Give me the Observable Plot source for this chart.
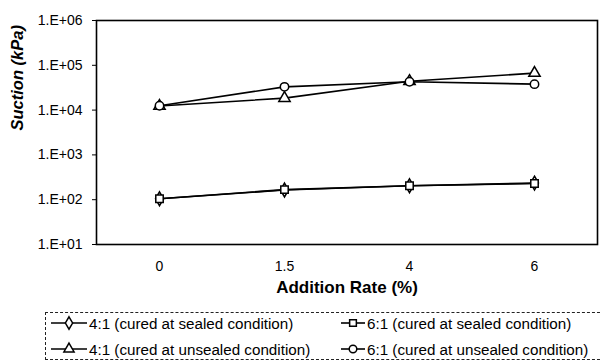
<!DOCTYPE html>
<html>
<head>
<meta charset="utf-8">
<script src="https://cdn.jsdelivr.net/npm/d3@7"></script>
<script src="https://cdn.jsdelivr.net/npm/@observablehq/plot@0.6"></script>
<style>
  html, body { margin: 0; padding: 0; background: #fff; }
  body { width: 601px; height: 362px; position: relative; overflow: hidden; font-family: "Liberation Sans", Arial, sans-serif; }
  #chart { position: absolute; left: 0; top: 0; }
  #legend { position: absolute; left: 45px; top: 312px; width: 560px; height: 48px; border: 1px dashed #222; box-sizing: border-box; font-size: 15.2px; color: #000; }
  .item { position: absolute; display: flex; align-items: center; white-space: nowrap; height: 20px; }
  .item svg { margin-right: 1px; }
</style>
</head>
<body>
<div id="chart"></div>
<div id="legend"></div>
<script>
const rates = ["0", "1.5", "4", "6"];
const seriesNames = [
  "4:1 (cured at sealed condition)",
  "6:1 (cured at sealed condition)",
  "4:1 (cured at unsealed condition)",
  "6:1 (cured at unsealed condition)"
];
const seriesSymbols = ["diamond", "square", "triangle", "circle"];
const sealed41 = [105, 165, 205, 235];
const sealed61 = [105, 168, 205, 230];
const unsealed41 = [12300, 18500, 44000, 67000];
const unsealed61 = [12500, 33000, 43000, 38000];
const yTicks = [1e1, 1e2, 1e3, 1e4, 1e5, 1e6];
const yTickLabels = ["1.E+01", "1.E+02", "1.E+03", "1.E+04", "1.E+05", "1.E+06"];

const allValues = [sealed41, sealed61, unsealed41, unsealed61];
const data = [];
allValues.forEach((vals, si) => {
  vals.forEach((v, i) => data.push({series: seriesNames[si], symbol: seriesSymbols[si], rate: rates[i], value: v}));
});

const chart = Plot.plot({
  width: 601,
  height: 306,
  marginLeft: 96,
  marginRight: 4,
  marginTop: 20,
  marginBottom: 62,
  style: {fontFamily: "Liberation Sans, Arial, sans-serif", fontSize: "14px", color: "#000", background: "#fff"},
  x: {type: "point", domain: rates, padding: 0.5, label: null},
  y: {type: "log", domain: [1e1, 1e6], label: null},
  marks: [
    Plot.frame({stroke: "#000", strokeWidth: 1.6}),
    Plot.axisY({ticks: yTicks, tickFormat: d => yTickLabels[yTicks.indexOf(d)], tickSize: 4, tickPadding: 10, stroke: "#000", fontSize: 14}),
    Plot.axisX({tickSize: 0, tickPadding: 17, fontSize: 14}),
    Plot.text(["Addition Rate (%)"], {frameAnchor: "bottom", dy: 48, fontWeight: "bold", fontSize: 17}),
    Plot.text(["Suction (kPa)"], {frameAnchor: "left", dx: -79, dy: -2, rotate: -90, fontWeight: "bold", fontStyle: "italic", fontSize: 16.5}),
    Plot.line(data, {x: "rate", y: "value", z: "series", stroke: "#000", strokeWidth: 1.6}),
    Plot.dot(data, {x: "rate", y: "value", symbol: "symbol", r: 4.2, stroke: "#000", fill: "#fff", strokeWidth: 1.5})
  ]
});
document.getElementById("chart").appendChild(chart);

// Legend
const symbolMap = {diamond: d3.symbolDiamond, square: d3.symbolSquare, triangle: d3.symbolTriangle, circle: d3.symbolCircle};
const legend = document.getElementById("legend");
const positions = [[4, 0], [294, 0], [4, 26], [294, 26]];
const markerWidths = [38, 26, 38, 26];
seriesNames.forEach((name, si) => {
  const div = document.createElement("div");
  div.className = "item";
  div.style.left = positions[si][0] + "px";
  div.style.top = positions[si][1] + "px";
  const w = markerWidths[si];
  const svg = d3.create("svg").attr("width", w).attr("height", 18);
  svg.append("line").attr("x1", 1).attr("x2", w - 1).attr("y1", 9).attr("y2", 9).attr("stroke", "#000").attr("stroke-width", 1.6);
  svg.append("path").attr("transform", `translate(${w / 2},9)`)
    .attr("d", d3.symbol(symbolMap[seriesSymbols[si]], 45)())
    .attr("fill", "#fff").attr("stroke", "#000").attr("stroke-width", 1.5);
  div.appendChild(svg.node());
  const span = document.createElement("span");
  span.textContent = name;
  div.appendChild(span);
  legend.appendChild(div);
});
</script>
</body>
</html>
